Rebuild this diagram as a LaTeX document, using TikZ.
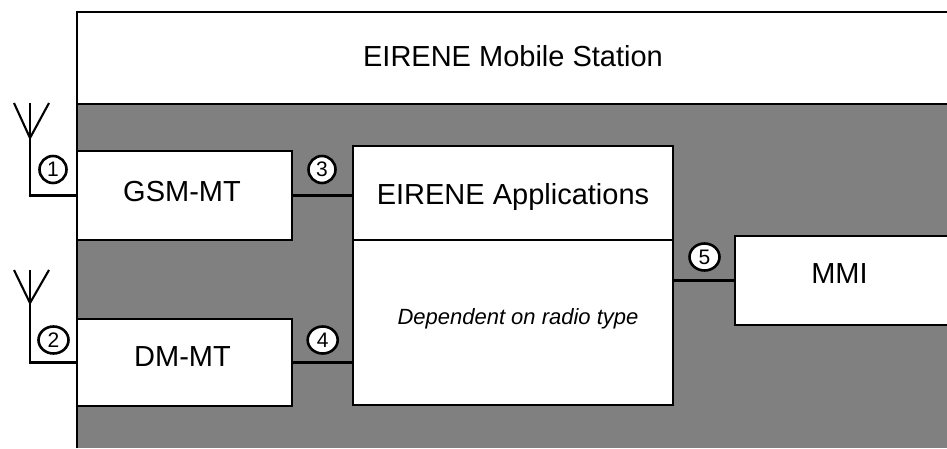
\documentclass[tikz,border=0pt]{standalone}
\usepackage{fontspec}
\usetikzlibrary{shapes.geometric}
\setmainfont{Liberation Sans}
\tikzset{
  block/.style={draw, fill=white, line width=2.8pt, inner sep=0pt, font=\fontsize{29}{32}\selectfont},
  num/.style={draw, ellipse, fill=white, line width=2.6pt, inner sep=0pt, minimum width=#1, minimum height=27pt, font=\fontsize{21}{24}\selectfont},
  num/.default=27pt,
  wire/.style={line width=2.1pt}
}
\begin{document}
\begin{tikzpicture}[x=1pt, y=-1pt]
  \useasboundingbox (0,0) rectangle (947,448);
  \fill[fill=white] (0,0) rectangle (947,448);

  % station frame
  \fill[fill=black!50] (77,104) rectangle (947,448);
  \draw[line width=2.8pt] (77,448) -- (77,12) -- (947,12);
  \draw[line width=2.8pt] (77,104) -- (947,104);
  \node[font=\fontsize{29}{32}\selectfont] (station) at (513,56) {EIRENE Mobile Station};

  % blocks
  \node[block, minimum width=215pt, minimum height=89pt] (gsm) at (184.5,195.5) {\raisebox{8pt}{GSM-MT}\hspace{5pt}\null};
  \node[block, minimum width=215pt, minimum height=87pt] (dm) at (184.5,362.5) {\raisebox{11pt}{DM-MT}\hspace{4pt}\null};
  \node[block, minimum width=320pt, minimum height=94pt] (apps) at (513,193) {\raisebox{-4pt}[21pt][6pt]{EIRENE Applications}};
  \node[block, minimum width=320pt, minimum height=165pt, font=\fontsize{22}{24}\selectfont\itshape] (dep) at (513,322.5) {\hspace{10pt}\raisebox{11pt}{Dependent on radio type}};
  \node[block, minimum width=240pt, minimum height=89pt] (mmi) at (855,280.5) {\raisebox{13pt}{MMI}\hspace{31pt}\null};

  % antennas
  \foreach \name/\top/\fork in {gsm/103/138, dm/270/303}{
    \coordinate (\name foot) at (30,0 |- \name.west);
    \coordinate (\name tip) at (30,\top);
    \coordinate (\name fork) at (30,\fork);
    \draw[wire] (\name.west) -- (\name foot) -- (\name tip);
    \draw[wire] (14,\top) -- (\name fork) -- (49,\top);
  }

  % links
  \draw[wire] (gsm.east) -- (gsm.east -| apps.west);
  \draw[wire] (dm.east) -- (dm.east -| dep.west);
  \draw[wire] (dep.east |- mmi.west) -- (mmi.west);

  % numbers
  \node[num] (n1) at (53,169.5) {1};
  \node[num=30pt] (n2) at (53.5,340) {2};
  \node[num] (n3) at (322,169.5) {3};
  \node[num=30pt] (n4) at (322.7,340) {4};
  \node[num=30pt] (n5) at (704.5,257) {5};
\end{tikzpicture}
\end{document}
